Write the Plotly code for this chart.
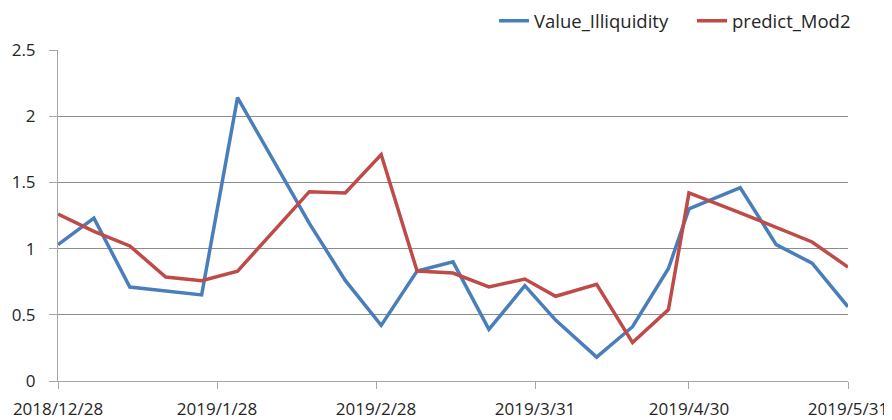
import plotly.graph_objects as go

dates = ["2018-12-28", "2019-01-04", "2019-01-11", "2019-01-18", "2019-01-25",
         "2019-02-01", "2019-02-15", "2019-02-22", "2019-03-01", "2019-03-08",
         "2019-03-15", "2019-03-22", "2019-03-29", "2019-04-04", "2019-04-12",
         "2019-04-19", "2019-04-26", "2019-04-30", "2019-05-10", "2019-05-17",
         "2019-05-24", "2019-05-31"]

value_illiquidity = [1.03, 1.23, 0.71, 0.68, 0.65, 2.14, 1.19, 0.76, 0.42, 0.83,
                     0.90, 0.39, 0.72, 0.46, 0.18, 0.41, 0.85, 1.30, 1.46, 1.03,
                     0.89, 0.56]

predict_mod2 = [1.26, 1.13, 1.02, 0.785, 0.757, 0.83, 1.43, 1.42, 1.71, 0.83,
                0.815, 0.71, 0.77, 0.64, 0.73, 0.29, 0.54, 1.42, 1.27, 1.16,
                1.05, 0.86]

x_tick_vals = ["2018-12-28", "2019-01-28", "2019-02-28", "2019-03-31", "2019-04-30", "2019-05-31"]
x_tick_text = ["2018/12/28", "2019/1/28", "2019/2/28", "2019/3/31", "2019/4/30", "2019/5/31"]
y_tick_vals = [0, 0.5, 1, 1.5, 2, 2.5]
y_tick_text = ["0", "0.5", "1", "1.5", "2", "2.5"]

BLUE = "#4A7EBB"
RED = "#BE4B48"
FONT = "Open Sans"

fig = go.Figure()
fig.add_trace(go.Scatter(x=dates, y=value_illiquidity, mode="lines", name="Value_Illiquidity",
                         line=dict(color=BLUE, width=3.5)))
fig.add_trace(go.Scatter(x=dates, y=predict_mod2, mode="lines", name="predict_Mod2",
                         line=dict(color=RED, width=3.5)))

fig.update_layout(
    width=884, height=412,
    margin=dict(l=50, r=44, t=42, b=38.5),
    paper_bgcolor="white", plot_bgcolor="white",
    font=dict(family=FONT, size=17, color="#262626"),
    showlegend=True,
    legend=dict(orientation="h", xref="container", yref="container",
                x=0.5498, xanchor="left", y=0.968, yanchor="middle",
                font=dict(family=FONT, size=18.5, color="#262626"),
                bgcolor="rgba(0,0,0,0)", entrywidth=153, entrywidthmode="pixels",
                itemwidth=30),
)
fig.update_xaxes(
    type="date", range=["2018-12-28", "2019-05-31"],
    tickmode="array", tickvals=x_tick_vals, ticktext=x_tick_text,
    showgrid=False, zeroline=False, automargin=False,
    showline=True, linecolor="#A6A6A6", linewidth=1,
    ticks="outside", ticklen=7, tickcolor="#A6A6A6", tickwidth=1,
    ticklabelstandoff=6,
)
fig.update_yaxes(
    range=[0, 2.5], tickmode="array", tickvals=y_tick_vals, ticktext=y_tick_text,
    showgrid=True, gridcolor="#8C8C8C", gridwidth=1, zeroline=False, automargin=False,
    showline=True, linecolor="#A6A6A6", linewidth=1,
    ticks="outside", ticklen=8, tickcolor="#A6A6A6", tickwidth=1,
    ticklabelstandoff=10,
)

fig.write_html("out.html")
